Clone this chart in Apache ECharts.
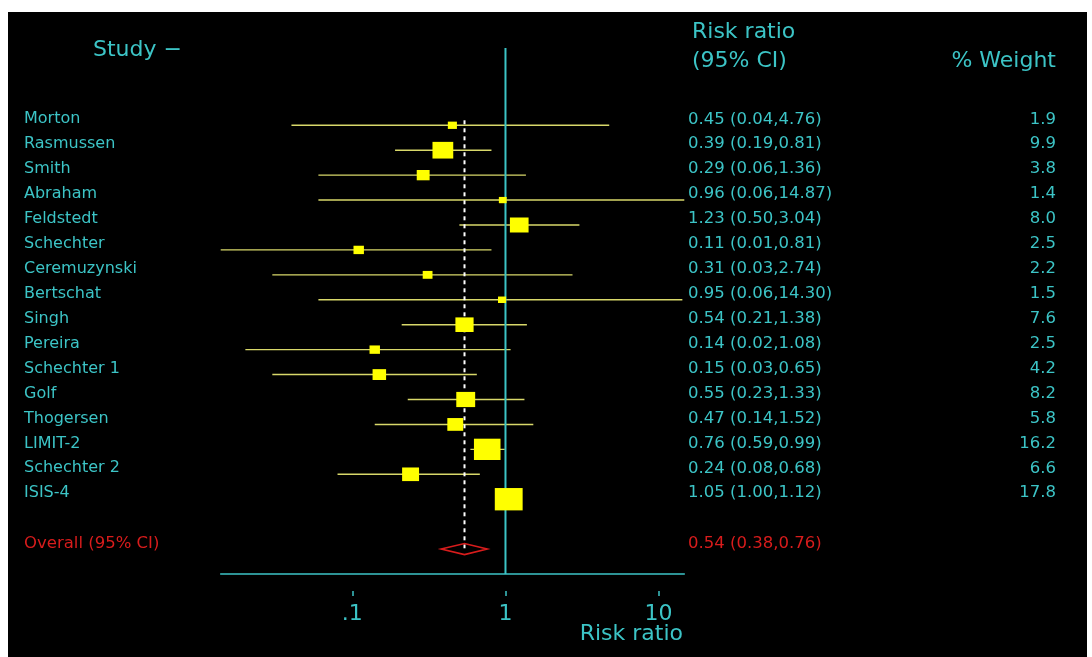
<!DOCTYPE html>
<html>
<head>
<meta charset="utf-8">
<script src="https://cdn.jsdelivr.net/npm/echarts@6/dist/echarts.min.js"></script>
<style>
  html, body { margin: 0; padding: 0; background: #ffffff; }
  #chart { width: 1092px; height: 657px; }
</style>
</head>
<body>
<div id="chart"></div>
<script>
// Magnesium trials: risk ratios with 95% confidence intervals and % weights
const studies = ['Morton', 'Rasmussen', 'Smith', 'Abraham', 'Feldstedt', 'Schechter',
  'Ceremuzynski', 'Bertschat', 'Singh', 'Pereira', 'Schechter 1', 'Golf', 'Thogersen',
  'LIMIT-2', 'Schechter 2', 'ISIS-4'];
const riskRatio = [0.45, 0.39, 0.29, 0.96, 1.23, 0.11, 0.31, 0.95, 0.54, 0.14, 0.15, 0.55, 0.47, 0.76, 0.24, 1.05];
const ciLower   = [0.04, 0.19, 0.06, 0.06, 0.50, 0.01, 0.03, 0.06, 0.21, 0.02, 0.03, 0.23, 0.14, 0.59, 0.08, 1.00];
const ciUpper   = [4.76, 0.81, 1.36, 14.87, 3.04, 0.81, 2.74, 14.30, 1.38, 1.08, 0.65, 1.33, 1.52, 0.99, 0.68, 1.12];
const weights   = [1.9, 9.9, 3.8, 1.4, 8.0, 2.5, 2.2, 1.5, 7.6, 2.5, 4.2, 8.2, 5.8, 16.2, 6.6, 17.8];

const overallLabel = 'Overall (95% CI)';
const overallRR = 0.54;
const overallLower = 0.38;
const overallUpper = 0.76;

const tickValues = [0.1, 1, 10];
const tickLabels = ['.1', '1', '10'];

// ---- styling ----
const CYAN = '#3cc4c6';
const RED = '#d81c1c';
const YELLOW = '#ffff00';
const CI_COLOR = '#d8d86a';
const FONT = '"DejaVu Sans", sans-serif';
const BOX_W = 6.6;   // box width per sqrt(% weight)
const BOX_H = 5.3;   // box height per sqrt(% weight)
const TEXT_SHIFT = -6;

const lg = Math.log10;
const X_MIN = -1.86, X_MAX = 1.168;
const Y_MIN = -3.1, Y_MAX = 18;
const overallRow = studies.length + 1;

const ciText = (r, l, u) => r.toFixed(2) + ' (' + l.toFixed(2) + ',' + u.toFixed(2) + ')';

const studyData = studies.map((s, i) => [i, lg(riskRatio[i]), lg(ciLower[i]), lg(ciUpper[i]), weights[i]]);

function renderStudyLine(params, api) {
  const i = params.dataIndex;
  const row = api.value(0);
  const cs = params.coordSys;
  const clamp = v => Math.max(cs.x, Math.min(cs.x + cs.width, v));
  const pLo = api.coord([api.value(2), row]);
  const pHi = api.coord([api.value(3), row]);
  const y = pLo[1];
  const ty = y + TEXT_SHIFT;
  return {
    type: 'group',
    children: [
      { type: 'line', shape: { x1: clamp(pLo[0]), y1: y, x2: clamp(pHi[0]), y2: y },
        style: { stroke: CI_COLOR, lineWidth: 1.4 } },
      { type: 'text', style: { text: studies[i], x: 24, y: ty, fill: CYAN,
        font: '16px ' + FONT, align: 'left', verticalAlign: 'middle' } },
      { type: 'text', style: { text: ciText(riskRatio[i], ciLower[i], ciUpper[i]), x: 688, y: ty, fill: CYAN,
        font: '16.5px ' + FONT, align: 'left', verticalAlign: 'middle' } },
      { type: 'text', style: { text: weights[i].toFixed(1), x: 1056, y: ty, fill: CYAN,
        font: '16.5px ' + FONT, align: 'right', verticalAlign: 'middle' } }
    ]
  };
}

function renderStudyBox(params, api) {
  const row = api.value(0);
  const p = api.coord([api.value(1), row]);
  const s = Math.sqrt(api.value(4));
  const bw = BOX_W * s, bh = BOX_H * s;
  return { type: 'rect', shape: { x: p[0] - bw / 2, y: p[1] - bh / 2, width: bw, height: bh },
    style: { fill: YELLOW } };
}

function renderOverall(params, api) {
  const row = api.value(0);
  const pMid = api.coord([api.value(1), row]);
  const pLo = api.coord([api.value(2), row]);
  const pHi = api.coord([api.value(3), row]);
  const h = 5.5;
  const y = pMid[1];
  const ty = y + TEXT_SHIFT + 1;
  return {
    type: 'group',
    children: [
      { type: 'polygon', shape: { points: [[pLo[0], y], [pMid[0], y - h], [pHi[0], y], [pMid[0], y + h]] },
        style: { fill: 'none', stroke: RED, lineWidth: 1.6 } },
      { type: 'text', style: { text: overallLabel, x: 24, y: ty, fill: RED,
        font: '16.5px ' + FONT, align: 'left', verticalAlign: 'middle' } },
      { type: 'text', style: { text: ciText(overallRR, overallLower, overallUpper), x: 688, y: ty, fill: RED,
        font: '16.5px ' + FONT, align: 'left', verticalAlign: 'middle' } }
    ]
  };
}

const tickPositions = tickValues.map(lg);

const chart = echarts.init(document.getElementById('chart'), null, { renderer: 'canvas' });
chart.setOption({
  animation: false,
  backgroundColor: '#ffffff',
  graphic: [
    { type: 'rect', z: -10, silent: true, shape: { x: 8, y: 12, width: 1079, height: 645 }, style: { fill: '#000000' } },
    { type: 'text', z: 10, style: { text: 'Study \u2212', x: 93, y: 50, fill: CYAN, font: '22px ' + FONT, verticalAlign: 'middle' } },
    { type: 'text', z: 10, style: { text: 'Risk ratio', x: 692, y: 32, fill: CYAN, font: '22px ' + FONT, verticalAlign: 'middle' } },
    { type: 'text', z: 10, style: { text: '(95% CI)', x: 692, y: 61, fill: CYAN, font: '22px ' + FONT, verticalAlign: 'middle' } },
    { type: 'text', z: 10, style: { text: '% Weight', x: 1056, y: 61, fill: CYAN, font: '22px ' + FONT, align: 'right', verticalAlign: 'middle' } },
    { type: 'text', z: 10, style: { text: 'Risk ratio', x: 683, y: 634, fill: CYAN, font: '22px ' + FONT, align: 'right', verticalAlign: 'middle' } }
  ],
  grid: { left: 220.7, top: 48, width: 463.6, height: 526, containLabel: false },
  xAxis: [
    {
      type: 'value', min: X_MIN, max: X_MAX, position: 'bottom',
      axisLine: { show: true, onZero: false, lineStyle: { color: CYAN, width: 1.5 } },
      axisTick: { show: false }, axisLabel: { show: false }, splitLine: { show: false }
    },
    {
      type: 'value', min: X_MIN, max: X_MAX, position: 'bottom', offset: 17,
      axisLine: { show: false, onZero: false },
      axisTick: { show: true, customValues: tickPositions, length: 5, lineStyle: { color: CYAN, width: 1.5 } },
      axisLabel: {
        show: true, customValues: tickPositions, margin: 12, color: CYAN, fontSize: 22, fontFamily: FONT,
        formatter: v => {
          const k = tickPositions.findIndex(t => Math.abs(t - v) < 1e-6);
          return k >= 0 ? tickLabels[k] : '';
        }
      },
      splitLine: { show: false }
    }
  ],
  yAxis: { type: 'value', min: Y_MIN, max: Y_MAX, inverse: true, show: false },
  series: [
    {
      type: 'custom', z: 1, xAxisIndex: 0, renderItem: renderStudyLine, data: studyData, silent: true
    },
    {
      type: 'line', z: 2, xAxisIndex: 0, symbol: 'none', silent: true,
      lineStyle: { color: CYAN, width: 2 },
      data: [[0, Y_MIN], [0, Y_MAX]]
    },
    {
      type: 'line', z: 2, xAxisIndex: 0, symbol: 'none', silent: true,
      lineStyle: { color: '#ffffff', width: 2, type: [4, 4] },
      data: [[lg(overallRR), -0.2], [lg(overallRR), overallRow]]
    },
    {
      type: 'custom', z: 3, xAxisIndex: 0, renderItem: renderStudyBox, data: studyData, silent: true
    },
    {
      type: 'custom', z: 3, xAxisIndex: 0, renderItem: renderOverall, silent: true,
      data: [[overallRow, lg(overallRR), lg(overallLower), lg(overallUpper)]]
    }
  ]
});
</script>
</body>
</html>
